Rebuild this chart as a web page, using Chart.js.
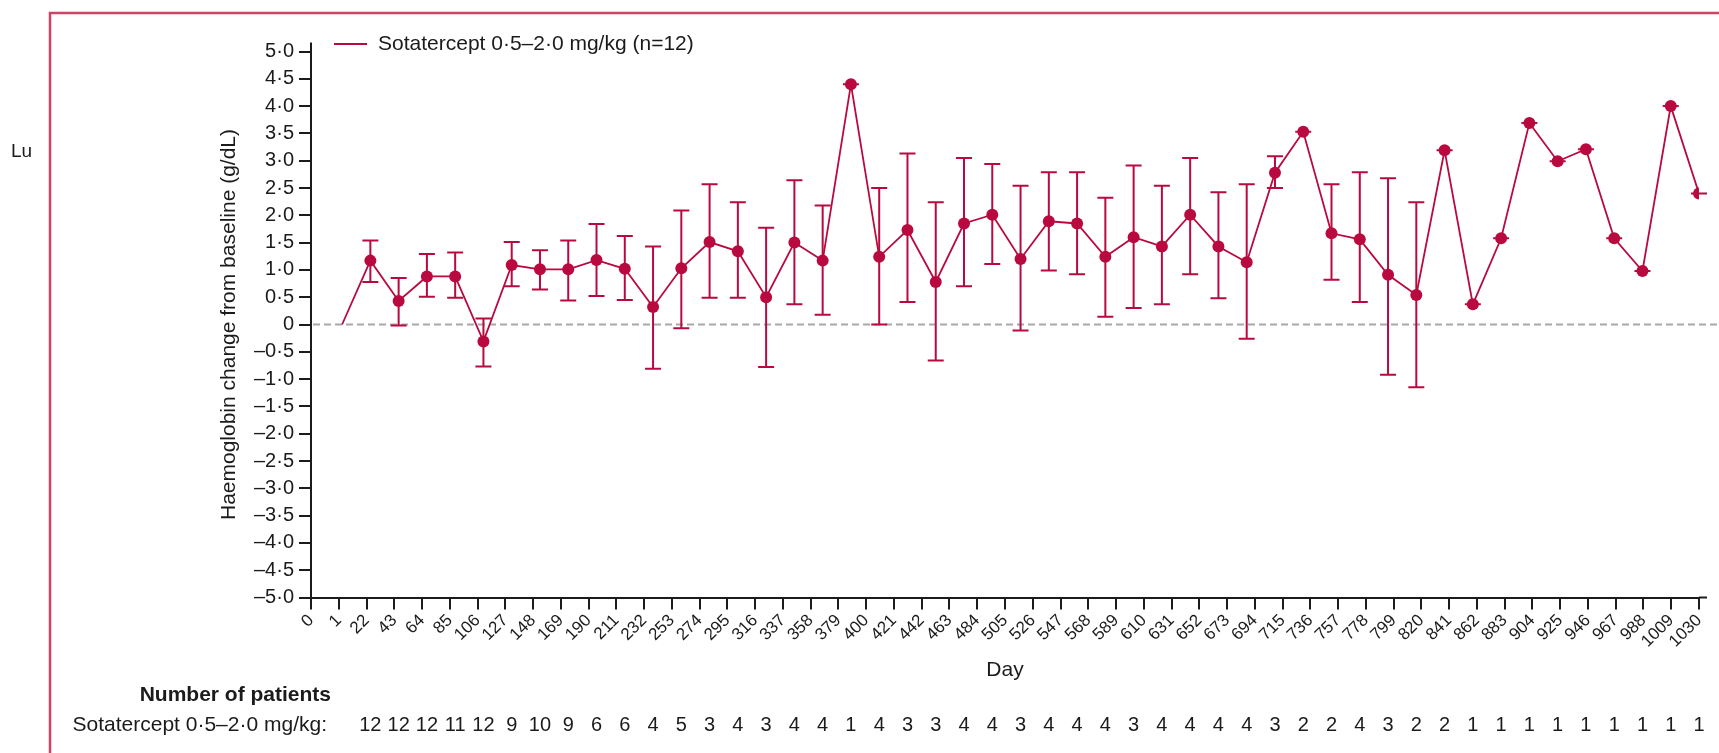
<!DOCTYPE html>
<html>
<head>
<meta charset="utf-8">
<script src="https://cdn.jsdelivr.net/npm/chart.js@4.4.1/dist/chart.umd.min.js"></script>
<style>
  html, body { margin: 0; padding: 0; background: #ffffff; }
  #wrap { position: relative; width: 1719px; height: 753px; }
  canvas { display: block; }
</style>
</head>
<body>
<div id="wrap"><canvas id="hbChart" width="1719" height="753"></canvas></div>
<script>
// Day labels printed under the x axis
const dayLabels = ['0', '1', '22', '43', '64', '85', '106', '127', '148', '169', '190', '211', '232',
  '253', '274', '295', '316', '337', '358', '379', '400', '421', '442', '463', '484', '505', '526',
  '547', '568', '589', '610', '631', '652', '673', '694', '715', '736', '757', '778', '799', '820',
  '841', '862', '883', '904', '925', '946', '967', '988', '1009', '1030'];

// Mean haemoglobin change from baseline (g/dL) at each post-baseline visit
const meanChange = [1.17, 0.43, 0.88, 0.88, -0.31, 1.09, 1.01, 1.01, 1.18, 1.02, 0.32, 1.03,
  1.51, 1.34, 0.50, 1.50, 1.17, 4.40, 1.24, 1.73, 0.78, 1.85, 2.01, 1.20, 1.89, 1.85, 1.24,
  1.60, 1.43, 2.01, 1.43, 1.14, 2.78, 3.53, 1.67, 1.56, 0.91, 0.54, 3.19, 0.37, 1.58, 3.69,
  2.99, 3.21, 1.58, 0.98, 4.00, 2.40];

// Lower and upper ends of the error bars
const lowerBar = [0.78, -0.02, 0.51, 0.49, -0.77, 0.70, 0.64, 0.44, 0.52, 0.45, -0.81, -0.07,
  0.49, 0.49, -0.78, 0.37, 0.18, 4.40, 0.00, 0.41, -0.66, 0.70, 1.11, -0.11, 0.99, 0.92, 0.14,
  0.30, 0.37, 0.92, 0.48, -0.26, 2.50, 3.53, 0.82, 0.41, -0.92, -1.15, 3.19, 0.37, 1.58, 3.69,
  2.99, 3.21, 1.58, 0.98, 4.00, 2.40];
const upperBar = [1.54, 0.85, 1.29, 1.32, 0.11, 1.51, 1.36, 1.54, 1.84, 1.62, 1.43, 2.09,
  2.57, 2.24, 1.77, 2.64, 2.18, 4.40, 2.50, 3.13, 2.24, 3.05, 2.94, 2.54, 2.79, 2.79, 2.32,
  2.91, 2.54, 3.05, 2.42, 2.57, 3.08, 3.53, 2.57, 2.79, 2.68, 2.24, 3.19, 0.37, 1.58, 3.69,
  2.99, 3.21, 1.58, 0.98, 4.00, 2.40];

// Number of patients contributing at each visit
const patientsAtVisit = [12, 12, 12, 11, 12, 9, 10, 9, 6, 6, 4, 5, 3, 4, 3, 4, 4, 1, 4, 3, 3,
  4, 4, 3, 4, 4, 4, 3, 4, 4, 4, 4, 3, 2, 2, 4, 3, 2, 2, 1, 1, 1, 1, 1, 1, 1, 1, 1];

// Baseline point (day 1)
const baselinePoint = { x: -1, y: 0 };

const seriesName = 'Sotatercept 0\u00b75\u20132\u00b70 mg/kg (n=12)';
const rowName = 'Sotatercept 0\u00b75\u20132\u00b70 mg/kg:';

const FONT = '"Liberation Sans", Arial, sans-serif';
const INK = '#1c1a1b';
const RED = '#b90a40';
const FRAME = '#cc4468';

function fmtTick(v) {
  if (Math.abs(v) < 1e-9) return '0';
  const s = Math.abs(v).toFixed(1).replace('.', '\u00b7');
  return (v < 0 ? '\u2013' : '') + s;
}

const points = [baselinePoint].concat(meanChange.map((v, j) => ({ x: j, y: v })));
const radii = points.map((p, i) => (i === 0 ? 0 : 6));

const extras = {
  id: 'extras',
  beforeDatasetsDraw(chart) {
    const { ctx, chartArea, scales } = chart;
    const y0 = scales.y.getPixelForValue(0);
    ctx.save();
    ctx.strokeStyle = '#a8a8a8';
    ctx.lineWidth = 2;
    ctx.setLineDash([7, 4]);
    ctx.beginPath();
    ctx.moveTo(chartArea.left + 2, y0);
    ctx.lineTo(chart.width, y0);
    ctx.stroke();
    ctx.restore();
  },
  afterDatasetsDraw(chart) {
    const { ctx, scales } = chart;
    const xs = scales.xv, ys = scales.y;
    ctx.save();
    ctx.strokeStyle = RED;
    ctx.lineWidth = 2;
    const cap = 8;
    meanChange.forEach((m, j) => {
      const px = xs.getPixelForValue(j);
      const lo = ys.getPixelForValue(lowerBar[j]);
      const hi = ys.getPixelForValue(upperBar[j]);
      ctx.beginPath();
      ctx.moveTo(px, lo); ctx.lineTo(px, hi);
      ctx.moveTo(px - cap, lo); ctx.lineTo(px + cap, lo);
      ctx.moveTo(px - cap, hi); ctx.lineTo(px + cap, hi);
      ctx.stroke();
    });
    ctx.restore();
  },
  afterDraw(chart) {
    const { ctx, chartArea, scales } = chart;
    ctx.save();
    // page frame
    ctx.strokeStyle = FRAME;
    ctx.lineWidth = 2.5;
    ctx.beginPath();
    ctx.moveTo(50, chart.height);
    ctx.lineTo(50, 13);
    ctx.lineTo(chart.width, 13);
    ctx.stroke();

    // axis line extensions
    ctx.strokeStyle = INK;
    ctx.lineWidth = 2;
    ctx.beginPath();
    ctx.moveTo(chartArea.left, chartArea.top);
    ctx.lineTo(chartArea.left, chartArea.top - 9);
    ctx.moveTo(chartArea.right, chartArea.bottom);
    ctx.lineTo(chartArea.right + 8, chartArea.bottom);
    ctx.stroke();

    ctx.fillStyle = INK;
    ctx.textBaseline = 'middle';
    ctx.font = '19px ' + FONT;
    ctx.textAlign = 'left';
    ctx.fillText('Lu', 11, 152);

    // legend
    ctx.strokeStyle = RED;
    ctx.lineWidth = 2;
    ctx.beginPath();
    ctx.moveTo(334, 44); ctx.lineTo(367, 44);
    ctx.stroke();
    ctx.font = '21px ' + FONT;
    ctx.fillText(seriesName, 378, 44);

    // patients-at-risk table
    ctx.textAlign = 'right';
    ctx.font = 'bold 21px ' + FONT;
    ctx.fillText('Number of patients', 331, 695);
    ctx.font = '21px ' + FONT;
    ctx.fillText(rowName, 327, 725);
    ctx.textAlign = 'center';
    ctx.font = '20px ' + FONT;
    patientsAtVisit.forEach((n, j) => {
      ctx.fillText(String(n), scales.xv.getPixelForValue(j), 725);
    });
    ctx.restore();
  }
};

Chart.defaults.font.family = FONT;
Chart.defaults.color = INK;

new Chart(document.getElementById('hbChart'), {
  type: 'line',
  data: {
    labels: dayLabels,
    datasets: [{
      label: seriesName,
      data: points,
      xAxisID: 'xv',
      yAxisID: 'y',
      borderColor: RED,
      borderWidth: 1.8,
      pointRadius: radii,
      pointHoverRadius: radii,
      pointBackgroundColor: RED,
      pointBorderWidth: 0,
      tension: 0,
      fill: false
    }]
  },
  options: {
    responsive: false,
    animation: false,
    devicePixelRatio: 1,
    layout: { padding: { left: 214, top: 51.5, right: 20, bottom: 70 } },
    plugins: { legend: { display: false }, tooltip: { enabled: false } },
    scales: {
      x: {
        type: 'category',
        position: 'bottom',
        offset: false,
        afterFit(scale) { scale.height = 85.5; },
        grid: { drawOnChartArea: false, drawTicks: true, tickLength: 12, color: INK, lineWidth: 2 },
        border: { display: true, color: INK, width: 2 },
        ticks: { autoSkip: false, minRotation: 45, maxRotation: 45, padding: 1,
                 font: { size: 17 }, color: INK },
        title: { display: true, text: 'Day', font: { size: 21 }, color: INK, padding: { top: 0, bottom: 0 } }
      },
      xv: {
        type: 'linear',
        display: false,
        position: 'bottom',
        min: -2.1,
        max: 47
      },
      y: {
        type: 'linear',
        position: 'left',
        min: -5,
        max: 5,
        afterFit(scale) { scale.width = 97; },
        grid: { drawOnChartArea: false, drawTicks: true, tickLength: 12, color: INK, lineWidth: 2 },
        border: { display: true, color: INK, width: 2 },
        ticks: { stepSize: 0.5, autoSkip: false, padding: 5, font: { size: 20 }, color: INK,
                 callback: (v) => fmtTick(v) },
        title: { display: true, text: 'Haemoglobin change from baseline (g/dL)', font: { size: 21 },
                 color: INK, padding: { top: 3, bottom: 0 } }
      }
    }
  },
  plugins: [extras]
});
</script>
</body>
</html>
